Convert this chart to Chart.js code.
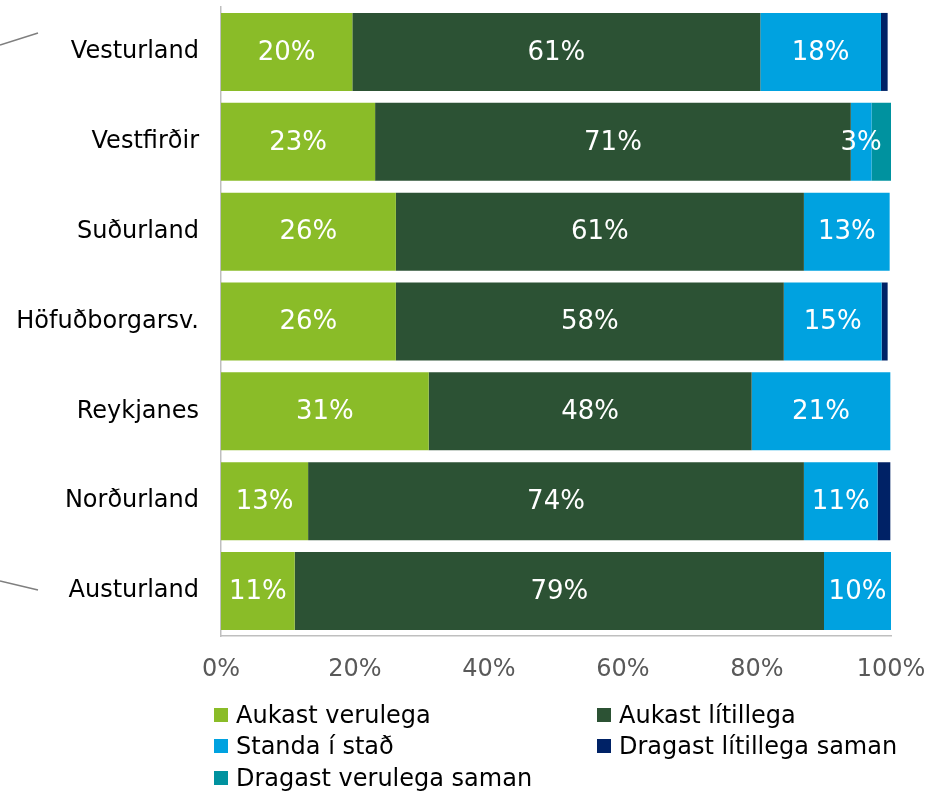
<!DOCTYPE html>
<html>
<head>
<meta charset="utf-8">
<script src="https://cdn.jsdelivr.net/npm/chart.js@4"></script>
<style>
  body { margin: 0; background: #fff; font-family: "DejaVu Sans", Verdana, sans-serif; }
  #wrap { position: relative; width: 930px; height: 793px; }
  #chart-box { position: absolute; left: 0; top: 0; width: 930px; height: 700px; }
  #legend { position: absolute; left: 214px; top: 699px; width: 716px;
    display: grid; grid-template-columns: 383px 333px; row-gap: 0; }
  .item { display: flex; align-items: center; height: 31.5px; font-size: 24px; color: #000; white-space: nowrap; }
  .box { width: 14px; height: 14px; margin-right: 8px; flex: none; }
</style>
</head>
<body>
<div id="wrap">
  <div id="chart-box"><canvas id="chart-regions"></canvas></div>
  <div id="legend"></div>
</div>
<script>
// Regions (top to bottom)
const regions = ['Vesturland', 'Vestfirðir', 'Suðurland', 'Höfuðborgarsv.', 'Reykjanes', 'Norðurland', 'Austurland'];

// Share of answers per region, %
const aukastVerulega   = [19.6, 23.0, 26.1, 26.1, 31.0, 13.0, 11.0];
const aukastLitillega  = [60.9, 71.0, 60.9, 57.9, 48.2, 74.0, 79.0];
const standaIStad      = [18.0,  3.1, 12.8, 14.6, 20.7, 11.0, 10.0];
const dragastLitillega = [ 1.0,  0.0,  0.0,  0.9,  0.0,  1.9,  0.0];
const dragastVerulega  = [ 0.0,  3.1,  0.0,  0.0,  0.0,  0.0,  0.0];

const xTicks = [0, 20, 40, 60, 80, 100];

const series = [
  { label: 'Aukast verulega', data: aukastVerulega, color: '#8ABC28', showLabel: true },
  { label: 'Aukast lítillega', data: aukastLitillega, color: '#2C5234', showLabel: true },
  { label: 'Standa í stað', data: standaIStad, color: '#00A2E0', showLabel: true },
  { label: 'Dragast lítillega saman', data: dragastLitillega, color: '#002266', showLabel: false },
  { label: 'Dragast verulega saman', data: dragastVerulega, color: '#00929F', showLabel: false }
];

const FONT = '"DejaVu Sans", Verdana, sans-serif';

// white % labels inside the bars
const barLabels = {
  id: 'barLabels',
  afterDatasetsDraw(chart) {
    const ctx = chart.ctx;
    ctx.save();
    ctx.font = '26px ' + FONT;
    ctx.fillStyle = '#fff';
    ctx.textAlign = 'center';
    ctx.textBaseline = 'middle';
    chart.data.datasets.forEach((ds, i) => {
      if (!series[i].showLabel) return;
      chart.getDatasetMeta(i).data.forEach((bar, j) => {
        const v = ds.data[j];
        if (!v) return;
        const p = bar.getCenterPoint();
        ctx.fillText(Math.round(v) + '%', p.x, p.y + 1);
      });
    });
    ctx.restore();
  }
};

// the two grey strokes at the left edge of the original picture
const leftStrokes = {
  id: 'leftStrokes',
  afterDraw(chart) {
    const ctx = chart.ctx;
    ctx.save();
    ctx.strokeStyle = '#7F7F7F';
    ctx.lineWidth = 1.5;
    ctx.beginPath();
    ctx.moveTo(0, 45); ctx.lineTo(38, 33);
    ctx.moveTo(0, 581); ctx.lineTo(38, 590);
    ctx.stroke();
    ctx.restore();
  }
};

new Chart(document.getElementById('chart-regions'), {
  type: 'bar',
  data: {
    labels: regions,
    datasets: series.map(s => ({
      label: s.label,
      data: s.data,
      backgroundColor: s.color,
      borderWidth: 0,
      categoryPercentage: 1,
      barPercentage: 0.868
    }))
  },
  options: {
    indexAxis: 'y',
    responsive: true,
    maintainAspectRatio: false,
    animation: false,
    layout: { padding: { top: 7, right: 39, left: 0, bottom: 0 } },
    plugins: {
      legend: { display: false },
      tooltip: { enabled: false }
    },
    scales: {
      x: {
        stacked: true,
        min: 0,
        max: 100,
        afterBuildTicks: scale => { scale.ticks = xTicks.map(v => ({ value: v })); },
        afterFit: scale => {
          scale.height = 64;
          scale.paddingLeft = 0;
          scale.paddingRight = 0;
        },
        grid: { display: false, drawTicks: false },
        border: { display: true, color: '#BFBFBF', width: 1.5 },
        ticks: {
          color: '#595959',
          font: { family: FONT, size: 24 },
          padding: 19,
          maxRotation: 0,
          callback: v => v + '%'
        }
      },
      y: {
        stacked: true,
        afterFit: scale => {
          scale.width = 221;
          scale.paddingTop = 0;
          scale.paddingBottom = 0;
        },
        grid: { display: false, drawTicks: false },
        border: { display: true, color: '#BFBFBF', width: 1.5 },
        ticks: {
          color: '#000',
          font: { family: FONT, size: 24 },
          padding: 22
        }
      }
    }
  },
  plugins: [barLabels, leftStrokes]
});

// legend in two columns, like the original
const legend = document.getElementById('legend');
series.forEach(s => {
  const item = document.createElement('div');
  item.className = 'item';
  item.innerHTML = '<span class="box" style="background:' + s.color + '"></span>' + s.label;
  legend.appendChild(item);
});
</script>
</body>
</html>
